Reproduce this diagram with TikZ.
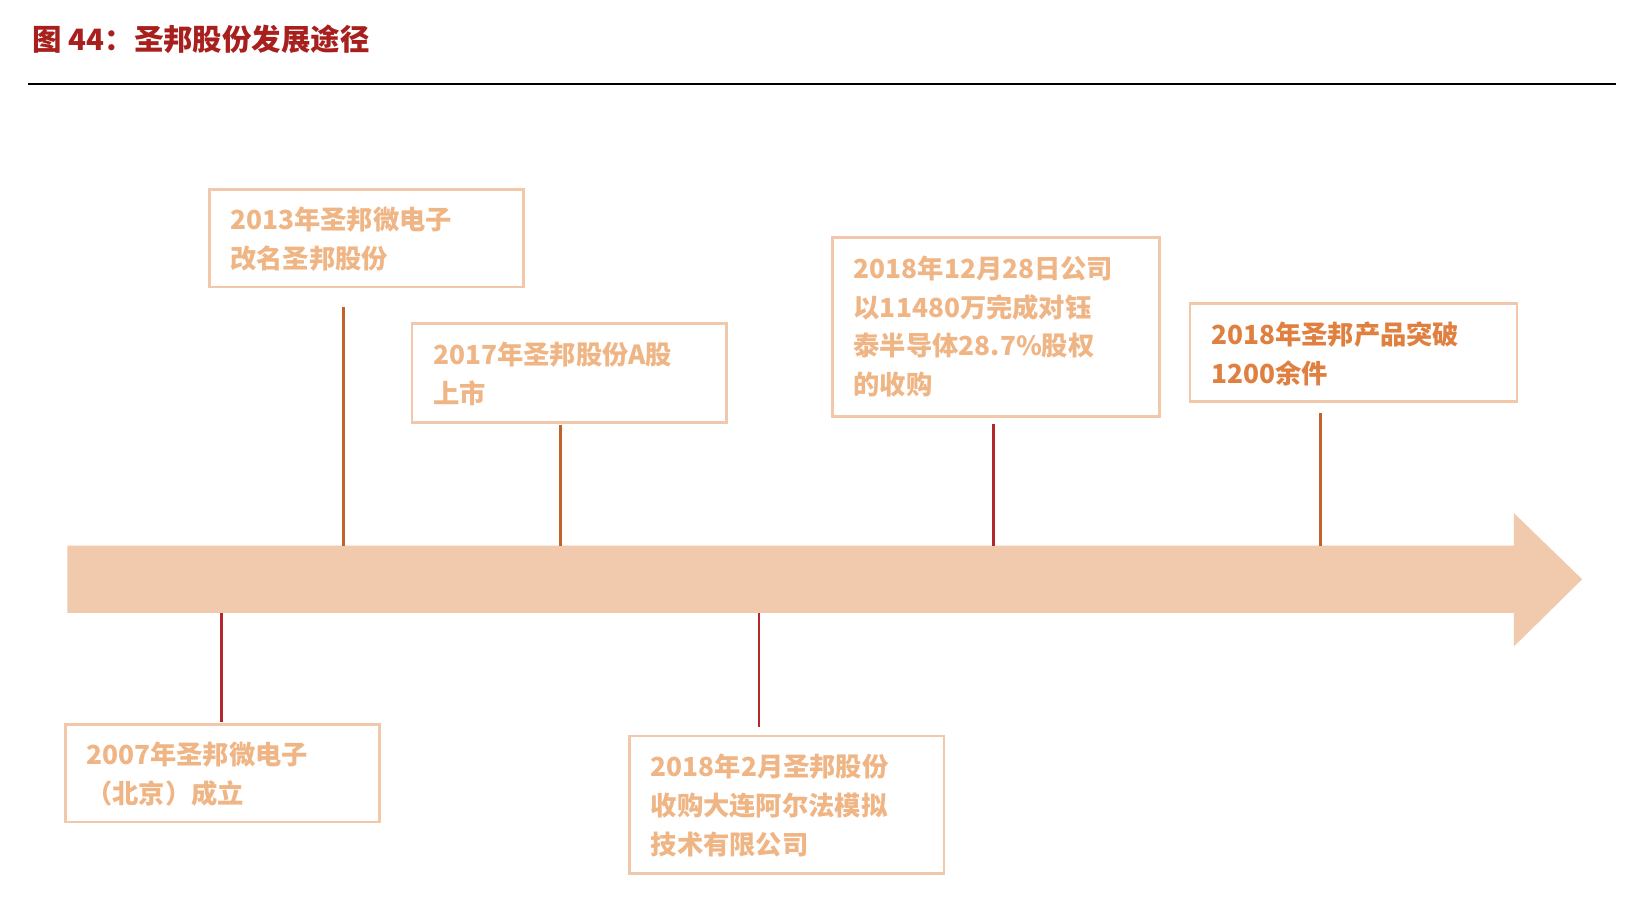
\documentclass[tikz,border=0pt]{standalone}
\usepackage{fontspec}
\setmainfont{Noto Sans CJK SC}
\begin{document}
\begin{tikzpicture}[x=0.5pt,y=-0.5pt,
  box/.style={draw=boxc,line width=1.3pt,fill=white,inner sep=0pt},
  txt/.style={anchor=north west,align=left,text=txtc,font=\bfseries\fontsize{12.5}{18.5}\selectfont},
  linea/.style={draw=linea,line width=1.3pt},
  lineb/.style={draw=lineb,line width=1.3pt}]
\definecolor{boxc}{HTML}{F2C8AA}
\definecolor{txtc}{HTML}{F0B584}
\definecolor{txtd}{HTML}{E08040}
\definecolor{linea}{HTML}{C0622A}
\definecolor{lineb}{HTML}{B3282C}
\definecolor{arrc}{HTML}{F1CAAE}
\definecolor{titlec}{HTML}{A8201E}
\useasboundingbox (0,0) rectangle (1560,858);
\node[anchor=west,text=titlec,font=\bfseries\fontsize{14}{16}\selectfont] (title) at (24,37) {图\ 44：圣邦股份发展途径};
\draw[line width=0.7pt] (27,80) coordinate (r1) -- (1537,80) coordinate (r2);
\fill[arrc] (64,519) -- (1440,519) -- (1440,488) -- (1505,551) -- (1440,615) -- (1440,583) -- (64,583) -- cycle;
% connectors
\draw[linea] (327,292) coordinate (c1) -- (327,519) coordinate (d1);
\draw[linea] (533,404) coordinate (c2) -- (533,519) coordinate (d2);
\draw[lineb] (945,403) coordinate (c3) -- (945,519) coordinate (d3);
\draw[linea] (1256,393) coordinate (c4) -- (1256,519) coordinate (d4);
\draw[lineb] (211,583) coordinate (c5) -- (211,687) coordinate (d5);
\draw[lineb] (722,583) coordinate (c6) -- (722,692) coordinate (d6);
% boxes
\draw[box] (199,180) rectangle (498,273);
\node[txt] (t1) at (212,190) {2013年圣邦微电子\\改名圣邦股份};
\draw[box] (392,308) rectangle (691,402);
\node[txt] (t2) at (405,318) {2017年圣邦股份A股\\上市};
\draw[box] (792,226) rectangle (1103,396);
\node[txt] (t3) at (805,236) {2018年12月28日公司\\以11480万完成对钰\\泰半导体28.7\%股权\\的收购};
\draw[box] (1132,289) rectangle (1443,382);
\node[txt,text=txtd] (t4) at (1145,299) {2018年圣邦产品突破\\1200余件};
\draw[box] (62,689) rectangle (361,782);
\node[txt] (t5) at (75,699) {2007年圣邦微电子\\（北京）成立};
\draw[box] (599,700) rectangle (898,831);
\node[txt] (t6) at (612,710) {2018年2月圣邦股份\\收购大连阿尔法模拟\\技术有限公司};
\end{tikzpicture}
\end{document}
